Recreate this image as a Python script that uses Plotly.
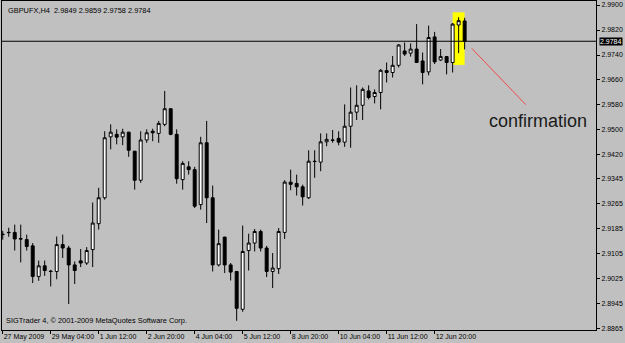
import plotly.graph_objects as go

# ---- data (H4 bars) ----
bar_index = list(range(78))
opens = [2.9165, 2.9171, 2.9172, 2.9152, 2.9149, 2.9129, 2.9031, 2.9065, 2.9048, 2.9047,
         2.9133, 2.9122, 2.9068, 2.9081, 2.9074, 2.9117, 2.9200, 2.9283, 2.9478, 2.9486,
         2.9478, 2.9493, 2.9432, 2.9339, 2.9468, 2.9496, 2.9489, 2.9518, 2.9568, 2.9486,
         2.9341, 2.9382, 2.9373, 2.9261, 2.9459, 2.9283, 2.9068, 2.9157, 2.9068, 2.9047,
         2.8926, 2.9114, 2.9138, 2.9175, 2.9122, 2.9047, 2.9056, 2.9172, 2.9333, 2.9329,
         2.9318, 2.9283, 2.9400, 2.9397, 2.9462, 2.9468, 2.9473, 2.9461, 2.9512, 2.9557,
         2.9579, 2.9625, 2.9607, 2.9620, 2.9690, 2.9684, 2.9707, 2.9753, 2.9746, 2.9759,
         2.9721, 2.9686, 2.9798, 2.9724, 2.9735, 2.9716, 2.9836, 2.9849]
highs = [2.9177, 2.9187, 2.9197, 2.9197, 2.9165, 2.9138, 2.9082, 2.9082, 2.9052, 2.9159,
         2.9165, 2.9129, 2.9079, 2.9119, 2.9125, 2.9268, 2.9315, 2.9496, 2.9518, 2.9502,
         2.9504, 2.9494, 2.9433, 2.9496, 2.9502, 2.9504, 2.9529, 2.9625, 2.9570, 2.9502,
         2.9400, 2.9400, 2.9382, 2.9478, 2.9529, 2.9322, 2.9181, 2.9158, 2.9074, 2.9047,
         2.9194, 2.9168, 2.9183, 2.9181, 2.9129, 2.9106, 2.9186, 2.9339, 2.9373, 2.9357,
         2.9325, 2.9435, 2.9435, 2.9489, 2.9489, 2.9500, 2.9496, 2.9582, 2.9636, 2.9643,
         2.9636, 2.9643, 2.9630, 2.9695, 2.9716, 2.9737, 2.9775, 2.9780, 2.9777, 2.9839,
         2.9748, 2.9834, 2.9814, 2.9759, 2.9735, 2.9842, 2.9861, 2.9859]
lows = [2.9149, 2.9158, 2.9114, 2.9076, 2.9114, 2.9010, 2.9017, 2.9033, 2.8999, 2.9022,
        2.9090, 2.8943, 2.9007, 2.9061, 2.9068, 2.9061, 2.9181, 2.9277, 2.9438, 2.9454,
        2.9451, 2.9414, 2.9309, 2.9331, 2.9459, 2.9464, 2.9459, 2.9512, 2.9483, 2.9328,
        2.9309, 2.9357, 2.9250, 2.9245, 2.9202, 2.9047, 2.9063, 2.9042, 2.9018, 2.8889,
        2.8918, 2.9050, 2.9111, 2.9111, 2.9029, 2.8994, 2.9039, 2.9151, 2.9307, 2.9290,
        2.9258, 2.9279, 2.9347, 2.9368, 2.9448, 2.9459, 2.9451, 2.9446, 2.9443, 2.9532,
        2.9532, 2.9598, 2.9585, 2.9566, 2.9652, 2.9668, 2.9700, 2.9737, 2.9735, 2.9716,
        2.9646, 2.9675, 2.9711, 2.9721, 2.9678, 2.9684, 2.9746, 2.9758]
closes = [2.9166, 2.9172, 2.9151, 2.9151, 2.9127, 2.9031, 2.9065, 2.9050, 2.9047, 2.9133,
          2.9122, 2.9068, 2.9050, 2.9074, 2.9114, 2.9202, 2.9283, 2.9475, 2.9493, 2.9477,
          2.9493, 2.9435, 2.9339, 2.9468, 2.9491, 2.9491, 2.9521, 2.9568, 2.9486, 2.9344,
          2.9393, 2.9373, 2.9256, 2.9459, 2.9283, 2.9068, 2.9136, 2.9068, 2.9045, 2.8929,
          2.9111, 2.9138, 2.9175, 2.9122, 2.9047, 2.9058, 2.9175, 2.9333, 2.9326, 2.9318,
          2.9286, 2.9400, 2.9399, 2.9462, 2.9470, 2.9467, 2.9461, 2.9512, 2.9557, 2.9579,
          2.9630, 2.9604, 2.9620, 2.9691, 2.9684, 2.9707, 2.9772, 2.9743, 2.9759, 2.9716,
          2.9684, 2.9796, 2.9718, 2.9735, 2.9716, 2.9839, 2.9850, 2.9784]

date_tick_index = [0, 8, 16, 24, 32, 40, 48, 56, 64, 72]
date_tick_labels = ["27 May 2009", "29 May 04:00", "1 Jun 12:00", "2 Jun 20:00", "4 Jun 04:00",
                    "5 Jun 12:00", "8 Jun 20:00", "10 Jun 04:00", "11 Jun 12:00", "12 Jun 20:00"]
price_ticks = [2.9900, 2.9820, 2.9740, 2.9660, 2.9580, 2.9500, 2.9420, 2.9345,
               2.9265, 2.9185, 2.9105, 2.9025, 2.8945, 2.8865]
current_price = 2.9784
title_text = "GBPUFX,H4\u00a0 2.9849 2.9859 2.9758 2.9784"
copyright_text = "SIGTrader 4, \u00a9 2001-2009 MetaQuotes Software Corp."
note_text = "confirmation"

BG = "#C0C0C0"
FONT = "Liberation Sans, Arial, sans-serif"

fig = go.Figure()
fig.add_trace(go.Candlestick(
    x=bar_index, open=opens, high=highs, low=lows, close=closes,
    increasing=dict(line=dict(color="#000000", width=1), fillcolor="#FFFFFF"),
    decreasing=dict(line=dict(color="#000000", width=1), fillcolor="#000000"),
    showlegend=False, hoverinfo="skip",
))

# yellow highlight behind the last three bars
fig.add_shape(type="rect", x0=75, x1=77, y0=2.97083, y1=2.98766,
              fillcolor="#FFFF00", line=dict(width=0), layer="below")
# current price line
fig.add_shape(type="line", xref="paper", x0=0, x1=1, y0=current_price, y1=current_price,
              line=dict(color="#000000", width=1))
# red pointer line
fig.add_shape(type="line", x0=78.2, y0=2.9761, x1=87.2, y1=2.9581,
              line=dict(color="#F04848", width=1))

fig.add_annotation(text=note_text, x=89.2, y=2.95275, xanchor="center", yanchor="middle",
                   showarrow=False, font=dict(family=FONT, size=18, color="#1A1A1A"))
fig.add_annotation(text=title_text, xref="paper", yref="paper", x=0, y=1, xshift=4, yshift=-3,
                   xanchor="left", yanchor="top", showarrow=False,
                   font=dict(family=FONT, size=7.4, color="#000000"))
fig.add_annotation(text=copyright_text, xref="paper", yref="paper", x=0, y=0, xshift=2, yshift=3,
                   xanchor="left", yanchor="bottom", showarrow=False,
                   font=dict(family=FONT, size=7.4, color="#000000"))
fig.add_annotation(text=f"{current_price:.4f}", xref="paper", x=1, y=current_price, xshift=3,
                   xanchor="left", yanchor="middle", showarrow=False, bgcolor="#000000",
                   borderpad=0, font=dict(family=FONT, size=7, color="#FFFFFF"))

fig.update_layout(
    width=625, height=343,
    margin=dict(l=2, r=29, t=1, b=13),
    paper_bgcolor=BG, plot_bgcolor=BG,
    font=dict(family=FONT, size=7, color="#000000"),
    xaxis=dict(range=[-0.12, 98.9], rangeslider=dict(visible=False), showgrid=False,
               zeroline=False, showline=True, linecolor="#000000", linewidth=1, mirror=True,
               tickmode="array", tickvals=date_tick_index, ticktext=date_tick_labels,
               ticks="outside", ticklen=3, tickcolor="#000000", tickangle=0,
               ticklabelposition="outside right", tickfont=dict(size=7)),
    yaxis=dict(side="right", range=[2.88596, 2.99129], showgrid=False, zeroline=False,
               showline=True, linecolor="#000000", linewidth=1, mirror=True,
               tickmode="array", tickvals=price_ticks,
               ticktext=[f"{v:.4f}" for v in price_ticks],
               ticks="outside", ticklen=3, tickcolor="#000000", tickfont=dict(size=7)),
)

fig.write_html("out.html")
